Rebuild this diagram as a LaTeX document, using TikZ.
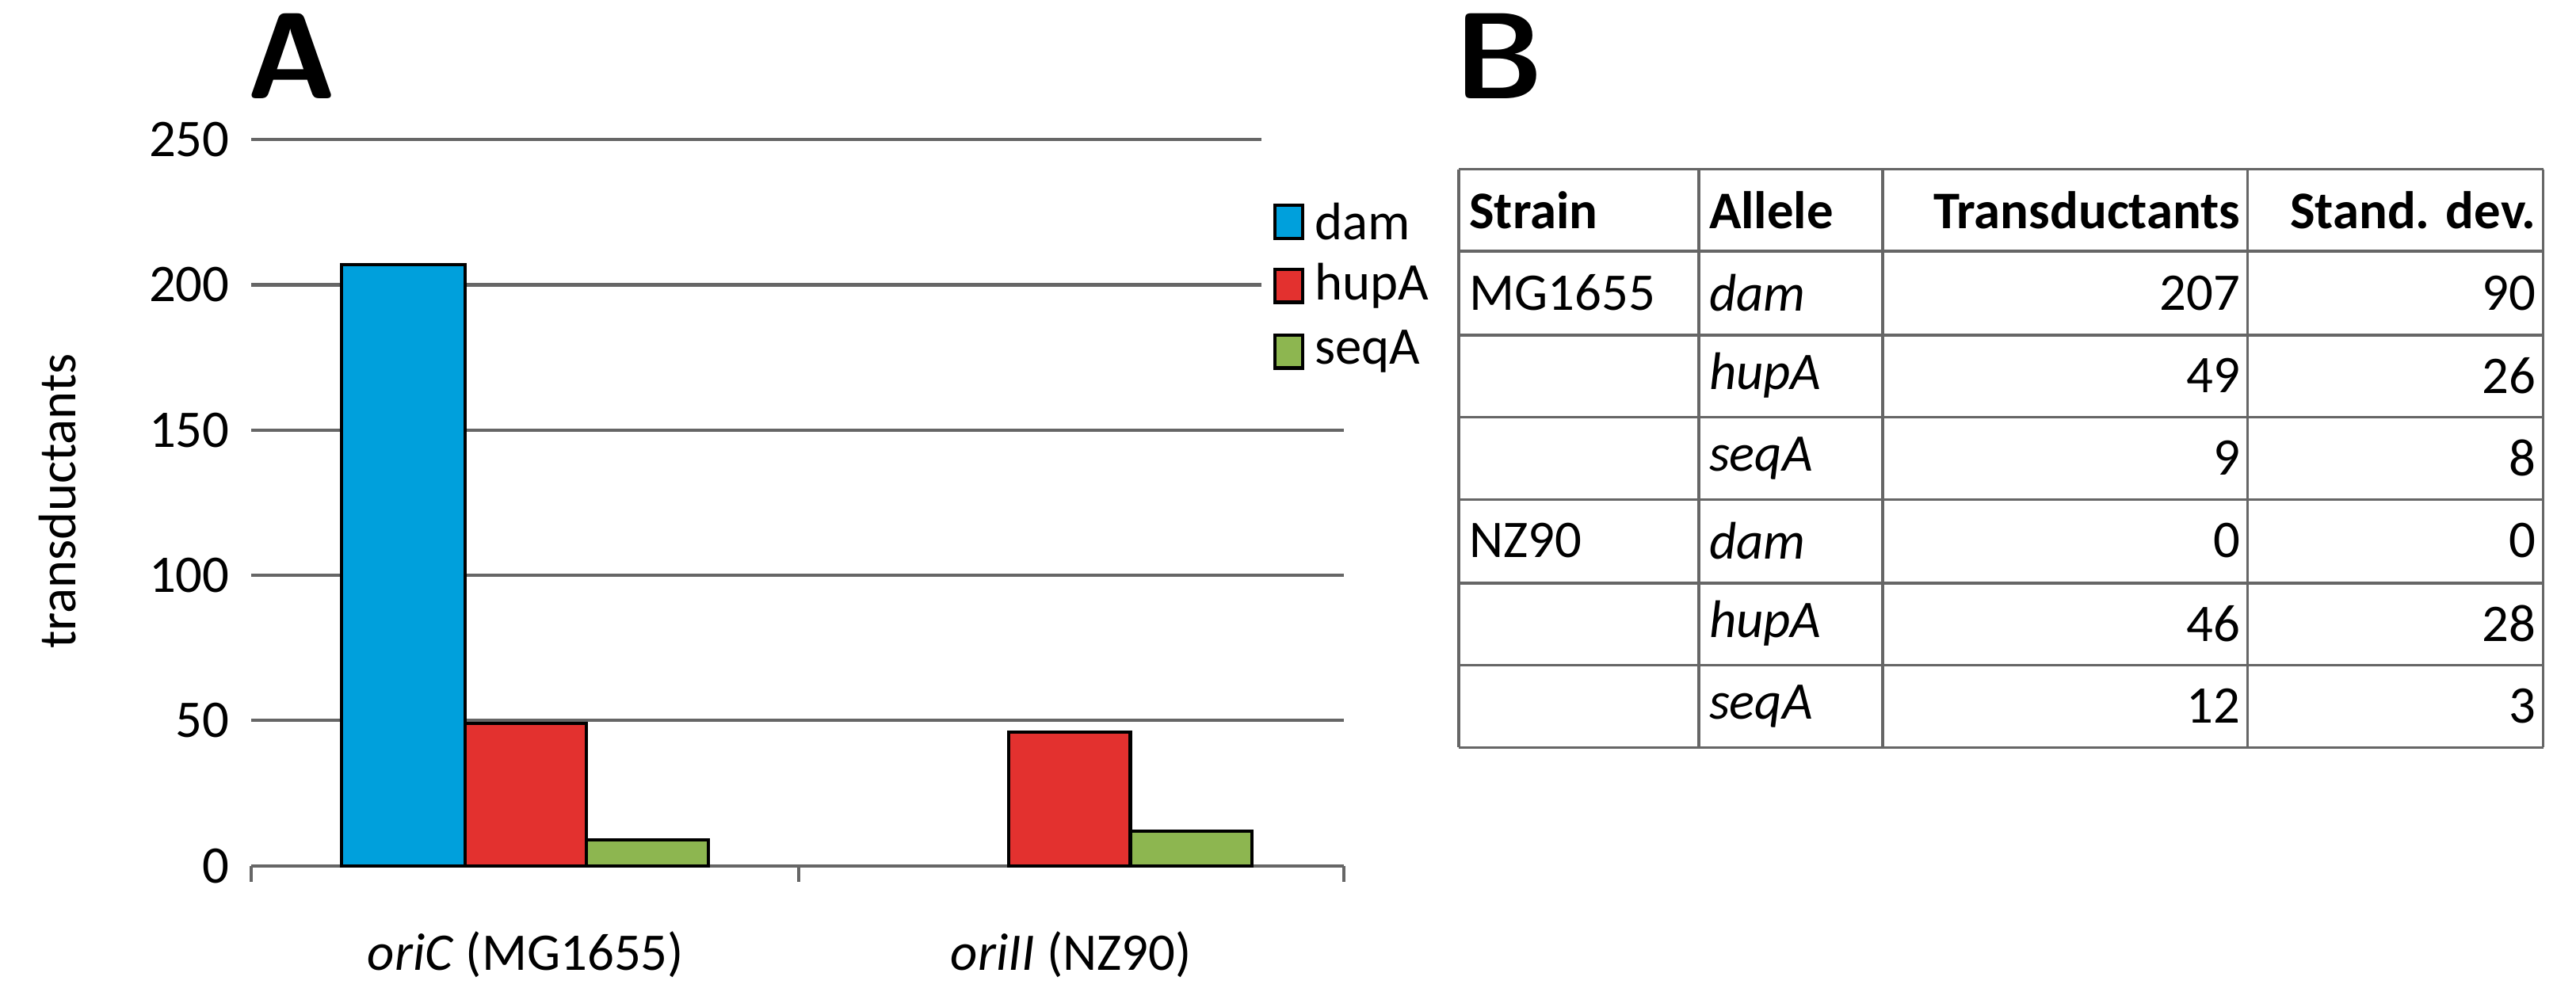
\documentclass[tikz,border=0pt]{standalone}
\usepackage{fontspec}
\setmainfont{Carlito}
\begin{document}
\begin{tikzpicture}[x=0.020733cm,y=-0.020733cm,
 lbl/.style={font=\fontsize{19}{22}\selectfont,inner sep=0pt},
 bar/.style={draw=black,line width=1.2pt},
 grid/.style={draw=gray!80!black,line width=1.2pt},
 cell/.style={font=\fontsize{19}{22}\selectfont,inner sep=0pt}]
\useasboundingbox[fill=white] (0,0) rectangle (1568,603.4);
\definecolor{cblue}{HTML}{00A0DC}\definecolor{cred}{HTML}{E3312F}\definecolor{cgreen}{HTML}{8DB650}
% gridlines
\foreach \v in {50,100,...,250}{\draw[grid] (153,{527-\v*1.768}) -- (818,{527-\v*1.768});}
\foreach \v in {0,50,...,250}{\node[lbl,anchor=east] (t\v) at (140,{527-\v*1.768}) {\v};}
\draw[grid] (153,527) -- (818,527);
\foreach \x in {153,486,818}{\draw[grid] (\x,527) -- (\x,537);}
% bars
\draw[bar,fill=cblue] (208,527) rectangle (283,{527-207*1.768});
\draw[bar,fill=cred] (283,527) rectangle (357,{527-49*1.768});
\draw[bar,fill=cgreen] (357,527) rectangle (431,{527-9*1.768});
\draw[bar,fill=cred] (614,527) rectangle (688,{527-46*1.768});
\draw[bar,fill=cgreen] (688,527) rectangle (762,{527-12*1.768});
% legend
\fill[white] (768,75) rectangle (818,240);
\draw[bar,fill=cblue] (776,125) rectangle (793,145);
\draw[bar,fill=cred] (776,164) rectangle (793,184);
\draw[bar,fill=cgreen] (776,204) rectangle (793,224);
\node[lbl,anchor=west] (ld) at (800,135) {dam};
\node[lbl,anchor=west] (lh) at (800,174) {hupA};
\node[lbl,anchor=west] (ls) at (800,214) {seqA};
\node[lbl,rotate=90] (yl) at (35,305) {transductants};
\node[lbl] (x1) at (320,581) {\textit{oriC} (MG1655)};
\node[lbl] (x2) at (652,581) {\textit{oriII} (NZ90)};
\node[inner sep=0pt,anchor=north west,font=\fontsize{44}{48}\selectfont\bfseries\sffamily] (A) at (150,8) {A};
\node[inner sep=0pt,anchor=north west,font=\fontsize{44}{48}\selectfont\bfseries\sffamily] (B) at (885,8) {B};
% table
\foreach \y in {103,153,204,254,304,355,405,455}{\draw[grid,line width=1pt] (888,\y) -- (1548,\y);}
\foreach \x in {888,1034,1146,1368,1548}{\draw[grid,line width=1pt] (\x,103) -- (\x,455);}
\def\rowy#1{(103+50.3*#1+25)}
\node[cell,anchor=west] at (894,128) {\textbf{Strain}};
\node[cell,anchor=west] at (1040,128) {\textbf{Allele}};
\node[cell,anchor=east] at (1364,128) {\textbf{Transductants}};
\node[cell,anchor=east] at (1544,128) {\textbf{Stand. dev.}};
\foreach \s/\a/\t/\d [count=\i] in {MG1655/dam/207/90, /hupA/49/26, /seqA/9/8, NZ90/dam/0/0, /hupA/46/28, /seqA/12/3}{
 \node[cell,anchor=west] at (894,{103+50.3*\i+25}) {\s};
 \node[cell,anchor=west] at (1040,{103+50.3*\i+25}) {\textit{\a}};
 \node[cell,anchor=east] at (1364,{103+50.3*\i+25}) {\t};
 \node[cell,anchor=east] at (1544,{103+50.3*\i+25}) {\d};
}
\end{tikzpicture}
\end{document}
